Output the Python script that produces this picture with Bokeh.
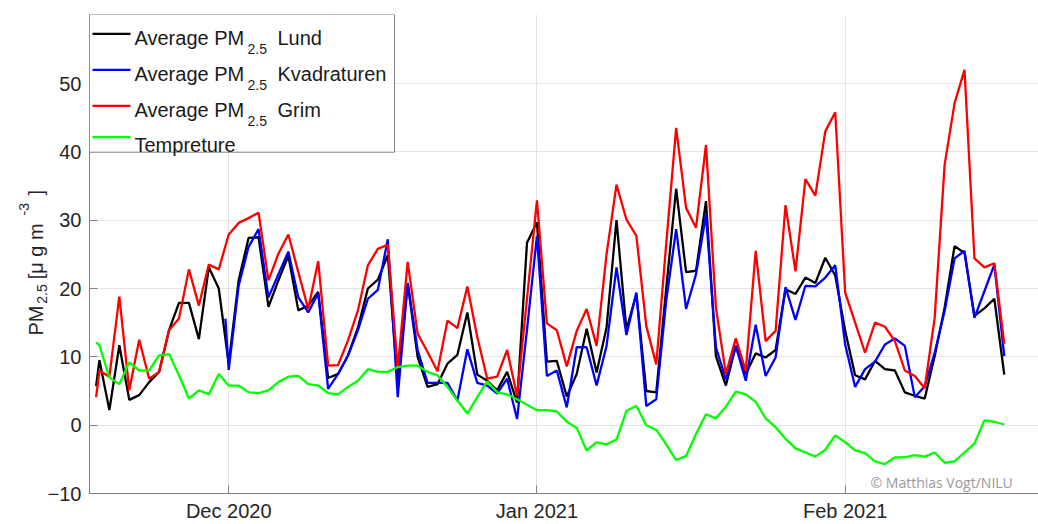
import math
import pandas as pd
from bokeh.plotting import figure
from bokeh.models import (FixedTicker, DatetimeTickFormatter, Label, BoxAnnotation,
                          Arrow, Range1d)
from bokeh.core.enums import CoordinateUnits
from bokeh.embed import file_html
from bokeh.resources import INLINE

# ---------------- data ----------------
# first sample is a partial day (Nov 17, afternoon), then daily values Nov 18 .. Feb 17
first_time = "2020-11-17 16:00"
daily_start = "2020-11-18"
daily_end = "2021-02-17"
kv_first_time = "2020-11-30 16:00"
kv_daily_start = "2020-12-01"

lund = [
    5.7, 9.5, 2.2, 11.7, 3.7, 4.4, 6.3, 7.8, 13.9, 17.9, 17.9, 12.6, 23.1, 20.0,
    9.0, 21.2, 27.4, 27.5, 17.3, 21.2, 24.8, 16.8, 17.5, 19.5,
    6.9, 7.5, 10.2, 14.3, 20.0, 21.3, 24.9, 6.2, 20.8, 10.0,
    5.6, 6.0, 9.0, 10.3, 16.5, 7.4, 6.5, 5.1, 7.8, 3.3, 26.7,
    29.7, 9.3, 9.4, 4.2, 7.5, 14.1, 7.7, 14.3, 30.0, 14.0,
    19.2, 5.0, 4.8, 20.0, 34.6, 22.4, 22.6, 32.8, 10.1, 5.8,
    11.6, 7.5, 10.5, 9.9, 11.0, 19.9, 19.2, 21.6, 20.8, 24.5, 21.9,
    13.8, 7.3, 6.7, 9.4, 8.2, 8.0, 4.8, 4.3, 3.9, 10.1,
    17.2, 26.2, 25.2, 16.0, 17.1, 18.5, 7.4,
]

kvadraturen = [
    15.6,
    8.1, 20.4, 26.1, 28.7, 18.7, 22.1, 25.4, 18.7, 16.5, 19.3,
    5.3, 7.5, 10.2, 13.9, 18.5, 19.8, 27.2, 4.1, 20.8, 11.0,
    6.2, 6.2, 6.2, 3.6, 11.1, 6.2, 5.8, 4.6, 6.8, 0.9, 14.0,
    27.7, 7.2, 8.0, 2.6, 11.4, 11.4, 5.8, 11.6, 23.1, 13.2,
    19.4, 2.8, 3.8, 18.2, 28.7, 17.0, 22.1, 30.8, 11.4, 6.7,
    11.6, 6.5, 14.7, 7.2, 9.9, 20.2, 15.4, 20.4, 20.3, 21.6, 23.4,
    11.8, 5.6, 8.2, 9.3, 11.8, 12.7, 11.6, 4.1, 5.7, 10.6,
    16.7, 24.4, 25.5, 15.7, 19.6, 23.5, 10.1,
]

grim = [
    4.1, 8.0, 7.1, 18.8, 5.1, 12.5, 6.8, 7.8, 13.9, 15.6, 22.8, 17.5, 23.5, 22.8,
    27.9, 29.6, 30.3, 31.1, 21.2, 25.1, 27.9, 22.4, 17.0, 24.0,
    8.7, 8.8, 12.4, 16.8, 23.4, 25.8, 26.4, 8.3, 23.9, 13.4,
    10.7, 7.9, 15.3, 14.2, 20.3, 12.9, 6.8, 7.1, 11.0, 4.3, 18.5,
    32.9, 14.9, 13.9, 8.6, 13.8, 17.0, 11.6, 25.0, 35.2, 30.1,
    27.7, 14.5, 8.9, 26.5, 43.5, 31.8, 28.9, 41.0, 17.2, 7.5,
    12.7, 7.9, 25.5, 12.3, 13.8, 32.2, 22.5, 36.0, 33.6, 43.0, 45.8,
    19.4, 15.0, 10.6, 15.0, 14.4, 12.3, 8.0, 7.2, 5.4, 15.7,
    38.1, 47.1, 52.0, 24.4, 23.1, 23.7, 11.9,
]

temperature = [
    12.1, 11.7, 7.0, 6.0, 9.2, 8.0, 8.0, 10.2, 10.4, 7.3, 3.9, 5.1, 4.5, 7.5,
    5.8, 5.8, 4.8, 4.7, 5.1, 6.3, 7.1, 7.2, 6.0, 5.8,
    4.7, 4.5, 5.6, 6.5, 8.2, 7.8, 7.8, 8.5, 8.7, 8.7,
    7.8, 7.3, 5.6, 3.6, 1.7, 4.1, 6.4, 4.8, 4.5, 3.8, 3.0,
    2.2, 2.2, 2.0, 0.5, -0.4, -3.7, -2.5, -2.8, -2.1, 2.1,
    2.8, 0.0, -0.7, -2.8, -5.1, -4.5, -1.3, 1.6, 1.0, 2.7,
    4.9, 4.5, 3.4, 1.0, -0.3, -2.0, -3.4, -4.0, -4.6, -3.6, -1.5,
    -2.5, -3.7, -4.1, -5.3, -5.7, -4.7, -4.7, -4.4, -4.6, -4.0,
    -5.5, -5.3, -4.0, -2.7, 0.7, 0.5, 0.1,
]

series_names = ["Lund", "Kvadraturen", "Grim"]
temp_name = "Tempreture"
x_tick_dates = ["2020-12-01", "2021-01-01", "2021-02-01"]
y_ticks = [-10, 0, 10, 20, 30, 40, 50]
x_limits = ["2020-11-17 00:00", "2021-02-20 10:36"]
y_limits = [-10, 60.1]
credit = "\u00a9 Matthias Vogt/NILU"

dates = list(pd.to_datetime([first_time])) + list(pd.date_range(daily_start, daily_end, freq="D"))
kv_dates = list(pd.to_datetime([kv_first_time])) + list(pd.date_range(kv_daily_start, daily_end, freq="D"))

# ---------------- figure ----------------
W, H = 1038, 524
MB_L, MB_T, MB_B = 89, 14, 31
FRAME_H = H - MB_T - MB_B

p = figure(width=W, height=H, x_axis_type="datetime", output_backend="svg",
           toolbar_location=None,
           x_range=Range1d(pd.Timestamp(x_limits[0]), pd.Timestamp(x_limits[1])),
           y_range=Range1d(y_limits[0], y_limits[1]),
           min_border_left=MB_L, min_border_right=0, min_border_top=MB_T,
           min_border_bottom=MB_B)
p.outline_line_color = None
p.background_fill_color = "white"
p.border_fill_color = "white"

LW = 2.3
p.line(dates, lund, line_color="#000000", line_width=LW)
p.line(kv_dates, kvadraturen, line_color="#0000ff", line_width=LW)
p.line(dates, grim, line_color="#ff0000", line_width=LW)
p.line(dates, temperature, line_color="#00ff00", line_width=LW)

# axes
tick_ms = [pd.Timestamp(d).value // 10**6 for d in x_tick_dates]
p.xaxis.ticker = FixedTicker(ticks=tick_ms)
fmt = "%b %Y"
p.xaxis.formatter = DatetimeTickFormatter(days=fmt, months=fmt, years=fmt, hours=fmt,
                                          hourmin=fmt, minutes=fmt, minsec=fmt,
                                          seconds=fmt, milliseconds=fmt, microseconds=fmt)
p.yaxis.ticker = FixedTicker(ticks=y_ticks)
for ax in (p.xaxis[0], p.yaxis[0]):
    ax.axis_line_color = "#808080"
    ax.axis_line_width = 1
    ax.major_tick_line_color = "#808080"
    ax.major_tick_in = 8
    ax.major_tick_out = 0
    ax.minor_tick_line_color = None
    ax.major_label_text_font = "Liberation Sans"
    ax.major_label_text_font_size = "20px"
    ax.major_label_text_color = "#262626"
p.yaxis.major_label_standoff = 8
p.xaxis.major_label_standoff = 6

p.xgrid.grid_line_color = "#e4e4e4"
p.ygrid.grid_line_color = "#e4e4e4"
p.xgrid.grid_line_width = 1
p.ygrid.grid_line_width = 1

FONT = "Liberation Sans"
TXT = "#1a1a1a"

def lab(x, y, text, size, color=TXT, font=FONT):
    p.add_layout(Label(x=x, y=y, x_units="screen", y_units="screen", text=text,
                       text_font=font, text_font_size=size,
                       text_color=color, text_baseline="alphabetic",
                       text_align="left"))

# y-axis label  PM_{2.5} [μ g m^{-3}]  (rotated pieces in the left margin, canvas coordinates)
CU = "canvas" if "canvas" in CoordinateUnits else "screen"
A = math.pi / 2
NB = "\u00a0"
gap_sub = NB * 4 + "\u2009"
gap_sup = NB * 5
ylabel_parts = [("PM" + gap_sub + "[\u03bc" + NB + "g" + NB + "m" + gap_sup + "]", 35, 335, "20px"),
                ("2.5", 41.7, 303.3, "14px"),
                ("-3", 23.3, 215, "14px")]
for t, xx, yy, sz in ylabel_parts:
    p.add_layout(Label(x=xx, y=yy, x_units=CU, y_units=CU, text=t, angle=A,
                       text_font=FONT, text_font_size=sz, text_color="#262626",
                       text_baseline="alphabetic", text_align="left"), "left")

# legend box
top = FRAME_H
p.add_layout(BoxAnnotation(left=0, right=305, top=top, bottom=top - 137.7,
                           left_units="screen", right_units="screen",
                           top_units="screen", bottom_units="screen",
                           fill_color="white", fill_alpha=1.0,
                           line_color="#808080", line_alpha=1.0, line_width=1))

colors = ["#000000", "#0000ff", "#ff0000"]
for i, (nm, c) in enumerate(zip(series_names, colors)):
    ly = top - 19.3 - 36 * i
    p.add_layout(Arrow(x_start=3, y_start=ly, x_end=41, y_end=ly,
                       start_units="screen", end_units="screen",
                       start=None, end=None, line_color=c, line_width=LW))
    base = top - 23.3 - 36 * i
    lab(45, base, "Average PM", "20px")
    lab(158, base - 11, "2.5", "14px")
    lab(188, base, nm, "20px")

ly = top - 122.7
p.add_layout(Arrow(x_start=3, y_start=ly, x_end=41, y_end=ly,
                   start_units="screen", end_units="screen",
                   start=None, end=None, line_color="#00ff00", line_width=LW))
lab(45, top - 130, temp_name, "20px")

# credit
lab(781, 11.3, credit, "14px", color="#9a9a9a", font="Open Sans")

open("out.html", "w").write(file_html(p, INLINE))
